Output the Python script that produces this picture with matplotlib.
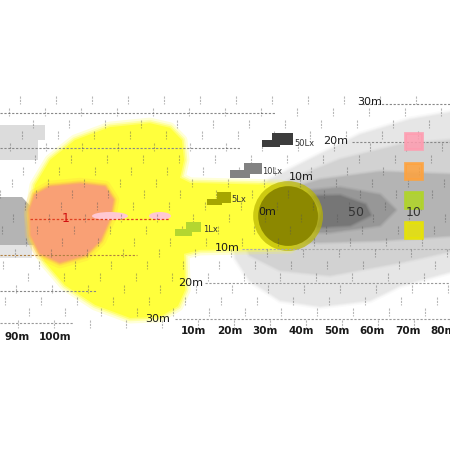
import matplotlib
matplotlib.use("Agg")
import matplotlib.pyplot as plt
from matplotlib.patches import Polygon, Circle, Ellipse
import numpy as np

# ---------------- data (metres: distance ahead, lateral offset) ----------------
lux_1_dist = [-36.4, -35, -30.8, -23.9, -14.2, -3.1, 2.5, 5.8, 6.4, 5.3, 8.1, 33.1, 40, 43.1,
              41.4, 35.8, 10.8, 6.4, 6.7, 4.7, -0.3, -8.6, -18.3, -26.7, -32.2, -35.6]
lux_1_lat = [-1.1, 7.2, 14.2, 19.7, 23.3, 24.4, 23.1, 19.7, 14.2, 9.2, 7.8, 7.2, 5.3, 0.3,
             -5.8, -10.3, -10.8, -11.9, -21.9, -26.4, -29.4, -29.7, -26.1, -20.6, -14.2, -8.1]

lux_10_dist = [-36.4, -35, -30.8, -22.5, -15.6, -13.3, -14.2, -16.9, -21.1, -28.1, -33.6, -36.1]
lux_10_lat = [0.3, 4.4, 6.7, 7.5, 6.7, 3.1, -1.9, -8.1, -12.2, -14.2, -11.7, -6.7]

beam_a_dist = [19.7, 23.3, 30.3, 41.4, 55.3, 69.2, 81.7, 81.7, 66.4, 58.1, 44.2, 33.1, 24.7, 20.8]
beam_a_lat = [-5.3, 3.1, 8.6, 14.2, 21.1, 25.3, 27.5, -16.4, -20.6, -24.7, -26.4, -24.7, -19.2, -13.1]
beam_b_dist = [21.9, 26.1, 35.8, 49.7, 66.4, 81.7, 81.7, 66.4, 46.9, 33.1, 24.7]
beam_b_lat = [-5.3, 1.7, 8.6, 14.2, 18.3, 19.7, -10.8, -14.2, -17.8, -16.4, -12.2]
beam_c_dist = [24.7, 30.3, 44.2, 60.8, 81.7, 81.7, 60.8, 44.2, 30.3]
beam_c_lat = [-1.1, 4.4, 8.6, 10.8, 10.0, -6.7, -8.1, -8.6, -8.1]
beam_d_dist = [27.5, 35.8, 49.7, 60.8, 65.0, 60.8, 46.9, 33.1]
beam_d_lat = [0.3, 5.0, 6.4, 4.4, 0.3, -3.9, -5.8, -5.8]
beam_e_dist = [30.3, 38.6, 49.7, 56.7, 58.1, 52.5, 38.6]
beam_e_lat = [0.3, 3.9, 4.2, 1.7, -1.1, -3.9, -4.7]

hot_center = (35.3, -1.4)
hot_radius = [9.7, 8.3]

legend_labels = ["50Lx", "10Lx", "5Lx", "1Lx"]
distance_labels = ["10m", "20m", "30m", "40m", "50m", "60m", "70m", "80m"]
left_labels = ["90m", "100m"]
lateral_labels = ["30m", "20m", "10m", "0m", "10m", "20m", "30m"]
value_labels = ["50", "10", "1"]

# ---------------- figure in metre coordinates ----------------
S = 3.6          # px per metre
OX, OY = 161, 211
W = H = 450

def P(px, py):
    return ((px - OX) / S, (OY - py) / S)

fig = plt.figure(figsize=(4.5, 4.5), dpi=100)
ax = fig.add_axes([0, 0, 1, 1])
ax.set_xlim(-OX / S, (W - OX) / S)
ax.set_ylim((OY - H) / S, OY / S)
ax.axis("off")

def poly(d, l, color, z, soft=0):
    pts = np.column_stack([d, l])
    if soft:
        for lw, a in [(soft, 0.2), (soft * 0.6, 0.3), (soft * 0.3, 0.5)]:
            ax.add_patch(Polygon(pts, closed=True, facecolor="none", edgecolor=color,
                                 lw=lw, alpha=a, joinstyle="round", zorder=z))
    ax.add_patch(Polygon(pts, closed=True, facecolor=color, edgecolor="none", zorder=z))

# left grey remnants
ax.add_patch(Polygon([P(0, 125), P(45, 125), P(45, 140), P(38, 140), P(38, 160), P(0, 160)],
                     facecolor="#dcdcdc", edgecolor="none", zorder=1))
ax.add_patch(Polygon([P(0, 245), P(32, 245), P(32, 258), P(0, 258)],
                     facecolor="#e4e4e4", edgecolor="none", zorder=1))
ax.add_patch(Polygon([P(0, 197), P(22, 197), P(34, 210), P(34, 245), P(0, 245)],
                     facecolor="#b4b4b4", edgecolor="none", zorder=1))

# right grey beam contours
poly(beam_a_dist, beam_a_lat, "#e6e6e6", 1, soft=5)
poly(beam_b_dist, beam_b_lat, "#d2d2d2", 1.1, soft=4)
poly(beam_c_dist, beam_c_lat, "#b4b4b4", 1.2, soft=4)
poly(beam_d_dist, beam_d_lat, "#979797", 1.3, soft=4)
poly(beam_e_dist, beam_e_lat, "#767676", 1.4, soft=4)

# yellow 1 lx, orange 10 lx
poly(lux_1_dist, lux_1_lat, "#ffff3c", 2, soft=8)
poly(lux_10_dist, lux_10_lat, "#ffc04a", 3, soft=9)
poly(lux_10_dist, lux_10_lat, "#f9a075", 3.1, soft=4)

# pink spots
ax.add_patch(Ellipse(P(110, 216), 36 / S, 8 / S, facecolor="#ffc8d2", edgecolor="none", zorder=4))
ax.add_patch(Ellipse(P(160, 216), 22 / S, 8 / S, facecolor="#ffc8d2", edgecolor="none", zorder=4))

# olive hot spot
ax.add_patch(Circle(hot_center, hot_radius[0], facecolor="#b8b400", edgecolor="none", zorder=3, alpha=0.7))
ax.add_patch(Circle(hot_center, hot_radius[1], facecolor="#8c8800", edgecolor="none", zorder=3.1))

# ---------------- grid lines ----------------
grid = [(113, 0, 275, "#888"), (148, 0, 240, "#888"), (104, 362, 450, "#888"),
        (142, 352, 450, "#888"), (255, 0, 137, "#b08040"), (291, 0, 97, "#888"),
        (249, 242, 450, "#aaa"), (283, 205, 450, "#999"), (319, 175, 450, "#999"),
        (323, 0, 73, "#999")]
for py, x0, x1, c in grid:
    a, b = P(x0, py), P(x1, py)
    ax.plot([a[0], b[0]], [a[1], b[1]], color=c, lw=0.8, ls=(0, (2, 1.5)), zorder=5)
a, b = P(30, 219), P(170, 219)
ax.plot([a[0], b[0]], [a[1], b[1]], color="#e04020", lw=0.9, ls=(0, (2, 1.5)), zorder=5)

# staggered tick marks
rows = np.arange(100, 336, 11.8)
for r, py in enumerate(rows):
    off = (20 - r * 11.5) % 36
    for px in np.arange(off, W, 36):
        a, b = P(px, py - 4), P(px, py + 4)
        ax.plot([a[0], b[0]], [a[1], b[1]], color="#555", alpha=0.42, lw=0.8,
                ls=(0, (2, 1)), zorder=5)

# ---------------- legend icons ----------------
icons = [
    ([(262, 147), (262, 140), (272, 140), (272, 133), (293, 133), (293, 145), (280, 145), (280, 147)], "#3c3c3c", (294, 143)),
    ([(230, 178), (230, 170), (244, 170), (244, 163), (262, 163), (262, 174), (250, 174), (250, 178)], "#828282", (262, 172)),
    ([(207, 205), (207, 199), (217, 199), (217, 192), (231, 192), (231, 203), (222, 203), (222, 205)], "#a6a600", (231, 200)),
    ([(175, 236), (175, 229), (186, 229), (186, 222), (201, 222), (201, 232), (192, 232), (192, 236)], "#b4d630", (203, 229)),
]
for (pts, c, lp), lab in zip(icons, legend_labels):
    ax.add_patch(Polygon([P(*p) for p in pts], facecolor=c, edgecolor="none", zorder=6))
    ax.text(*P(*lp), lab, fontsize=6, color="#333", va="center", ha="left", zorder=7)

squares = [(133, "#ff9cb0"), (163, "#ffa23c"), (192, "#b0d624"), (222, "#e8e400")]
for py, c in squares:
    ax.add_patch(Polygon([P(405, py), P(422, py), P(422, py + 16), P(405, py + 16)],
                         facecolor=c, edgecolor=c, lw=2, alpha=0.85, zorder=6))

# ---------------- labels ----------------
tx = dict(color="#1a1a1a", zorder=8, va="center", ha="center")
for i, lab in enumerate(distance_labels):
    ax.text(*P(194 + 35.6 * i, 331), lab, fontsize=7.5, fontweight="bold", **tx)
for px, lab in zip([17, 55], left_labels):
    ax.text(*P(px, 337), lab, fontsize=7.5, fontweight="bold", **tx)
lat_pos = [(370, 102), (336, 141), (301, 177), (267, 212), (227, 248), (191, 283), (158, 319)]
for (px, py), lab in zip(lat_pos, lateral_labels):
    ax.text(*P(px, py), lab, fontsize=8, **tx)
ax.text(*P(356, 212), value_labels[0], fontsize=9, color="#333", zorder=8, va="center", ha="center")
ax.text(*P(414, 212), value_labels[1], fontsize=9, color="#333", zorder=8, va="center", ha="center")
ax.text(*P(66, 219), value_labels[2], fontsize=9, color="#d01010", zorder=8, va="center", ha="center")

fig.savefig("out.png", dpi=100, facecolor="white")
